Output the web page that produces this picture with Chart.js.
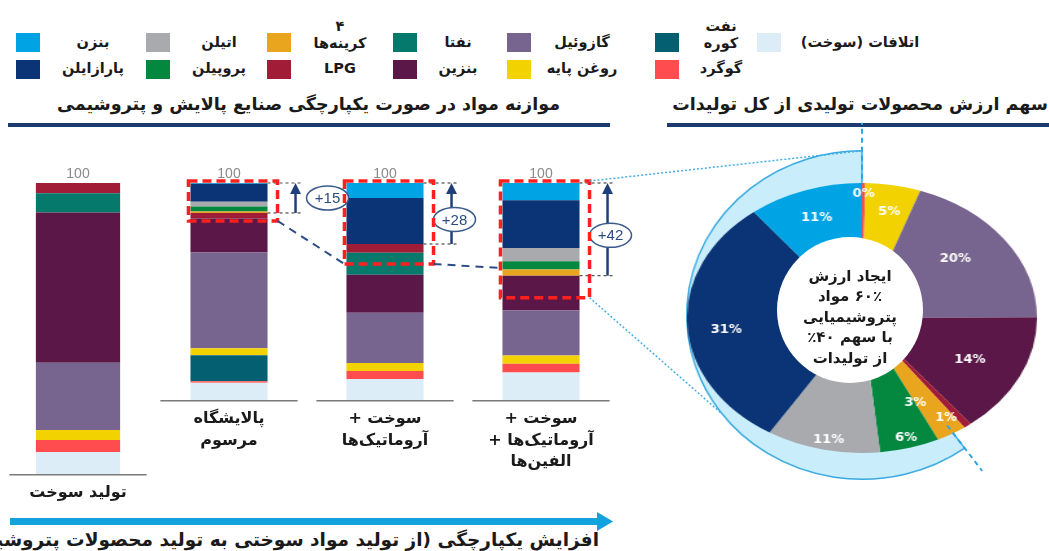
<!DOCTYPE html>
<html lang="fa">
<head>
<meta charset="utf-8">
<script src="https://cdn.jsdelivr.net/npm/chart.js@4.4.1/dist/chart.umd.min.js"></script>
<style>
  html, body { margin: 0; padding: 0; background: #fff; }
  body { width: 1049px; height: 551px; position: relative; overflow: hidden;
         font-family: "DejaVu Sans", sans-serif; color: #1a1a1a; }
  .abs { position: absolute; }
  .sw { position: absolute; width: 24px; height: 19px; }
  .lg { position: absolute; font-weight: bold; font-size: 14.5px; line-height: 17px;
        white-space: nowrap; transform: translateX(-50%); text-align: center; }
  .title { position: absolute; font-weight: bold; font-size: 17.5px; white-space: nowrap; }
  #bandWrap { position: absolute; left: 662px; top: 115px; width: 400px; height: 400px;
              transform: scaleX(1.067); transform-origin: 200px 200px; }
  #ringWrap { position: absolute; left: 727px; top: 183px; width: 270px; height: 270px;
              transform: scaleX(1.296); transform-origin: 135px 135px; }
  #hub { position: absolute; left: 777px; top: 237px; width: 146px; height: 146px;
         border-radius: 50%; background: #fff; display: flex; align-items: center;
         justify-content: center; text-align: center; font-weight: bold; font-size: 15px;
         line-height: 20.5px; padding-top: 14px; box-sizing: border-box; }
  #overlay { position: absolute; left: 0; top: 0; pointer-events: none; }
</style>
</head>
<body>

<div id="legend"></div>

<div class="title" dir="rtl" style="right:489px; top:94px">موازنه مواد در صورت یکپارچگی صنایع پالایش و پتروشیمی</div>
<div class="title" dir="rtl" style="right:1px; top:94px">سهم ارزش محصولات تولیدی از کل تولیدات</div>

<svg class="abs" style="left:0; top:0" width="1049" height="551">
  <rect x="8" y="123" width="602" height="4" fill="#1d3a70"/>
  <rect x="667" y="123" width="382" height="4" fill="#1d3a70"/>
  <rect x="10" y="518" width="590" height="7" fill="#12a3df"/>
  <polygon points="597,512 613,521.5 597,531" fill="#12a3df"/>
</svg>

<div class="title" dir="rtl" style="right:450px; top:529px; font-size:18.5px">افزایش یکپارچگی (از تولید مواد سوختی به تولید محصولات پتروشیمی)</div>

<canvas id="fuelChart" class="abs" dir="rtl" width="156" height="364" style="left:0px; top:150px"></canvas>
<canvas id="mixChart" class="abs" dir="rtl" width="500" height="330" style="left:151px; top:150px"></canvas>

<div id="bandWrap"><canvas id="bandChart" width="400" height="400"></canvas></div>
<div id="ringWrap"><canvas id="ringChart" width="270" height="270"></canvas></div>
<div id="hub" dir="rtl"><div>ایجاد ارزش<br>۶۰٪ مواد<br>پتروشیمیایی<br>با سهم ۴۰٪<br>از تولیدات</div></div>

<canvas id="overlay" width="1049" height="551"></canvas>

<script>
// ======================
// موازنه مواد و سهم ارزش محصولات
// ======================

// ---------- داده‌ها (ستون‌ها: تولید سوخت، پالایشگاه مرسوم، سوخت+آروماتیک، سوخت+آروماتیک+الفین) ----------
const barLabels = [
  ["تولید سوخت"],
  ["پالایشگاه", "مرسوم"],
  ["سوخت +", "آروماتیک‌ها"],
  ["سوخت +", "آروماتیک‌ها +", "الفین‌ها"]
];

const losses     = [7.6, 7.9, 9.7, 12.7];
const sulfur     = [4.1, 0.7, 3.7, 4.0];
const fuelOil    = [0, 12.0, 0, 0];
const baseOil    = [3.4, 3.2, 3.7, 3.8];
const gasoil     = [23.1, 44.2, 23.1, 20.7];
const gasoline   = [51.7, 15.6, 17.5, 16.1];
const naphtha    = [6.6, 0, 10.1, 0];
const lpg        = [3.5, 2.6, 4.1, 0];
const c4         = [0, 0.7, 0, 2.8];
const propylene  = [0, 2.3, 0, 3.8];
const ethylene   = [0, 2.2, 0, 6.1];
const paraxylene = [0, 8.3, 21.2, 22.0];
const benzene    = [0, 0.3, 6.9, 8.0];

// ترتیب از پایین به بالای ستون
const seriesValues = [losses, sulfur, fuelOil, baseOil, gasoil, gasoline, naphtha, lpg, c4, propylene, ethylene, paraxylene, benzene];
const seriesNames = ["اتلافات (سوخت)", "گوگرد", "نفت\nکوره", "روغن پایه", "گازوئیل", "بنزین", "نفتا", "LPG", "۴\nکرینه‌ها", "پروپیلن", "اتیلن", "پارازایلن", "بنزن"];
const seriesColors = ["#ddedf8", "#ff4c4f", "#045f71", "#f2d200", "#77648f", "#5a1747", "#06796d", "#a11c37", "#eaa51e", "#04873f", "#a9aaad", "#0a3475", "#00a4e4"];

const petroSeries = [c4, propylene, ethylene, paraxylene, benzene];
const upliftLabels = ["+15", "+28", "+42"];

// ---------- سهم ارزش (ساعتگرد از بالا) ----------
const shareNames = ["گوگرد", "روغن پایه", "گازوئیل", "بنزین", "LPG", "کرینه‌ها ۴", "پروپیلن", "اتیلن", "پارازایلن", "بنزن"];
const shareValues = [0.3, 5.1, 19.5, 14.4, 0.7, 2.8, 5.5, 10.5, 30.5, 10.6];
const shareSeries = [1, 3, 4, 5, 7, 8, 9, 10, 11, 12];
const shareIsPetro = [false, false, false, false, false, true, true, true, true, true];

// ---------- چیدمان ----------
const legendRow1 = [12, 10, 8, 6, 4, 2, 0];
const legendRow2 = [11, 9, 7, 5, 3, 1];
const legendSwatchX = [16, 146, 267, 393, 507, 655, 757];
const legendTextX = [93, 219, 340, 458, 582, 721, 860];
const legendRowY = [42.5, 69];

const MIX = { left: 151, top: 150 };
const BAND = { left: 662, top: 115, size: 400, sx: 1.067 };
const RING = { sx: 1.296 };
const boxPad = [8, 20, 22];
const labelRadius = [0.92, 0.8, 0.69, 0.69, 0.88, 0.7, 0.92, 0.92, 0.78, 0.79];
const labelShift = [0, 1, -4, 1, 4, 5, 0, -1, -3, 0];

const markState = { boxes: [] };

// ---------- راهنما ----------
function buildLegend() {
  const box = document.getElementById("legend");
  [legendRow1, legendRow2].forEach((row, r) => {
    row.forEach((s, c) => {
      const sw = document.createElement("div");
      sw.className = "sw";
      sw.style.left = legendSwatchX[c] + "px";
      sw.style.top = (legendRowY[r] - 9.5) + "px";
      sw.style.background = seriesColors[s];
      box.appendChild(sw);

      const lines = seriesNames[s].split("\n");
      const tx = document.createElement("div");
      tx.className = "lg";
      tx.dir = "rtl";
      tx.style.left = legendTextX[c] + "px";
      tx.style.top = (legendRowY[r] - 9 - (lines.length - 1) * 16) + "px";
      tx.innerHTML = lines.join("<br>");
      box.appendChild(tx);
    });
  });
}

function line(ctx, x1, y1, x2, y2) {
  ctx.beginPath();
  ctx.moveTo(x1, y1);
  ctx.lineTo(x2, y2);
  ctx.stroke();
}

// ---------- پلاگین: جمع و خط پایه ----------
const totalsLabel = {
  id: "totalsLabel",
  afterDatasetsDraw(chart) {
    const { ctx, scales: { x, y } } = chart;
    const n = chart.data.labels.length;
    const half = (x.width / n) * 0.44;
    ctx.save();
    chart.data.labels.forEach((lab, i) => {
      const total = chart.data.datasets.reduce((s, d) => s + (d.data[i] || 0), 0);
      const cx = x.getPixelForValue(i);
      ctx.strokeStyle = "#7a7a7a";
      ctx.lineWidth = 1.5;
      line(ctx, cx - half, y.bottom + 0.75, cx + half, y.bottom + 0.75);
      ctx.fillStyle = "#8a8a8a";
      ctx.font = '14px "Liberation Sans", Arial, sans-serif';
      ctx.textAlign = "center";
      ctx.fillText(Math.round(total), cx, y.getPixelForValue(total) - 5);
    });
    ctx.restore();
  }
};

// ---------- پلاگین: کادرها و فلش‌های سهم پتروشیمی ----------
const integrationMarks = {
  id: "integrationMarks",
  afterDatasetsDraw(chart) {
    const { ctx, scales: { y } } = chart;
    const meta = chart.getDatasetMeta(0);
    const boxes = [];
    ctx.save();
    meta.data.forEach((bar, i) => {
      const col = i + 1;
      const total = seriesValues.reduce((s, v) => s + v[col], 0);
      const petro = petroSeries.reduce((s, v) => s + v[col], 0);
      const left = bar.x - bar.width / 2;
      const right = bar.x + bar.width / 2;
      const top = y.getPixelForValue(total);
      const base = y.getPixelForValue(total - petro);
      const ax = right + 28;

      ctx.setLineDash([3, 3]);
      ctx.strokeStyle = "#4d4d4d";
      ctx.lineWidth = 1.2;
      line(ctx, right, top, ax + 8, top);
      line(ctx, right, base, ax + 8, base);

      ctx.setLineDash([]);
      ctx.strokeStyle = "#1f3f7a";
      ctx.fillStyle = "#1f3f7a";
      ctx.lineWidth = 2.5;
      line(ctx, ax, base, ax, top + 8);
      ctx.beginPath();
      ctx.moveTo(ax, top);
      ctx.lineTo(ax - 5.5, top + 11);
      ctx.lineTo(ax + 5.5, top + 11);
      ctx.closePath();
      ctx.fill();

      const short = base - top < 50;
      const ex = short ? ax + 32 : ax + 3;
      const ey = short ? top + 15 : (top + base) / 2 + 6;
      ctx.beginPath();
      ctx.ellipse(ex, ey, 21, 12, 0, 0, Math.PI * 2);
      ctx.fillStyle = "#ffffff";
      ctx.fill();
      ctx.strokeStyle = "#3a5a8c";
      ctx.lineWidth = 1.5;
      ctx.stroke();
      ctx.fillStyle = "#2c4c80";
      ctx.font = '15px "Liberation Sans", Arial, sans-serif';
      ctx.textAlign = "center";
      ctx.textBaseline = "middle";
      ctx.direction = "ltr";
      ctx.fillText(upliftLabels[i], ex, ey + 1);

      boxes.push({ left: left - 2, right: right + 10, top: top - 2, bottom: base + boxPad[i] });
    });

    ctx.setLineDash([9, 5]);
    ctx.strokeStyle = "#ff1f1f";
    ctx.lineWidth = 3.5;
    boxes.forEach((b) => ctx.strokeRect(b.left, b.top, b.right - b.left, b.bottom - b.top));

    ctx.setLineDash([8, 6]);
    ctx.strokeStyle = "#2d4c84";
    ctx.lineWidth = 2;
    line(ctx, boxes[0].right, boxes[0].bottom, boxes[1].left, boxes[1].bottom);
    line(ctx, boxes[1].right, boxes[1].bottom, boxes[2].left, boxes[1].bottom + 4);
    ctx.restore();
    markState.boxes = boxes;
  }
};

// ---------- ستون‌ها ----------
function buildBarChart(canvasId, cols, padding, barPct, axisHeight, extraPlugins) {
  const datasets = seriesValues.map((vals, s) => ({
    label: seriesNames[s],
    data: cols.map((c) => vals[c]),
    backgroundColor: seriesColors[s],
    borderWidth: 0,
    barPercentage: barPct,
    categoryPercentage: 1
  }));

  return new Chart(document.getElementById(canvasId), {
    type: "bar",
    data: { labels: cols.map((c) => barLabels[c]), datasets },
    options: {
      responsive: false,
      animation: false,
      layout: { padding },
      plugins: { legend: { display: false }, tooltip: { enabled: false } },
      scales: {
        x: {
          stacked: true,
          grid: { display: false, drawTicks: false },
          border: { display: false },
          ticks: {
            color: "#1a1a1a",
            padding: 8,
            maxRotation: 0,
            autoSkip: false,
            font: { family: "DejaVu Sans", weight: "bold", size: 16, lineHeight: 1.35 }
          },
          afterFit: (s) => { s.height = axisHeight; }
        },
        y: { stacked: true, min: 0, max: 100, display: false }
      }
    },
    plugins: [totalsLabel, ...extraPlugins]
  });
}

// ---------- حلقه ----------
const ringLabels = {
  id: "ringLabels",
  afterDatasetsDraw(chart) {
    const ctx = chart.ctx;
    const meta = chart.getDatasetMeta(0);
    ctx.save();
    ctx.fillStyle = "#ffffff";
    ctx.font = 'bold 13px "DejaVu Sans", sans-serif';
    ctx.textAlign = "center";
    ctx.textBaseline = "middle";
    meta.data.forEach((arc, i) => {
      const a = (arc.startAngle + arc.endAngle) / 2 + labelShift[i] * Math.PI / 180;
      const r = arc.outerRadius * labelRadius[i];
      ctx.save();
      ctx.translate(arc.x + Math.cos(a) * r, arc.y + Math.sin(a) * r);
      ctx.scale(1 / RING.sx, 1);
      ctx.fillText(Math.round(shareValues[i]) + "%", 0, 0);
      ctx.restore();
    });
    ctx.restore();
  }
};

function buildRing() {
  return new Chart(document.getElementById("ringChart"), {
    type: "doughnut",
    data: {
      labels: shareNames,
      datasets: [{
        data: shareValues,
        backgroundColor: shareSeries.map((s) => seriesColors[s]),
        borderWidth: 0
      }]
    },
    options: {
      responsive: false,
      animation: false,
      cutout: "30%",
      layout: { padding: 0 },
      plugins: { legend: { display: false }, tooltip: { enabled: false } }
    },
    plugins: [ringLabels]
  });
}

function buildBand() {
  const petro = shareValues.filter((v, i) => shareIsPetro[i]).reduce((a, b) => a + b, 0);
  const rest = shareValues.filter((v, i) => !shareIsPetro[i]).reduce((a, b) => a + b, 0);
  return new Chart(document.getElementById("bandChart"), {
    type: "doughnut",
    data: {
      labels: ["سوخت", "پتروشیمی"],
      datasets: [{
        data: [rest, petro],
        backgroundColor: ["rgba(0,0,0,0)", "#c9edfb"],
        borderColor: ["rgba(0,0,0,0)", "#38a9e1"],
        borderWidth: 1.5
      }]
    },
    options: {
      responsive: false,
      animation: false,
      cutout: 100,
      layout: { padding: 35 },
      plugins: { legend: { display: false }, tooltip: { enabled: false } }
    }
  });
}

// ---------- خطوط اتصال ----------
function drawOverlay(bandChart) {
  const ctx = document.getElementById("overlay").getContext("2d");
  const arc = bandChart.getDatasetMeta(0).data[1];
  const toPage = (a, r) => ({
    x: BAND.left + BAND.size / 2 + (arc.x + Math.cos(a) * r - BAND.size / 2) * BAND.sx,
    y: BAND.top + arc.y + Math.sin(a) * r
  });

  ctx.strokeStyle = "#2ea6df";
  ctx.lineWidth = 2;
  ctx.setLineDash([5, 4]);
  [arc.startAngle, arc.endAngle].forEach((a) => {
    const p1 = toPage(a, arc.outerRadius * 0.83);
    const p2 = toPage(a, arc.outerRadius + 28);
    line(ctx, p1.x, p1.y, p2.x, p2.y);
  });

  const b = markState.boxes[2];
  if (!b) return;
  const topPt = toPage(arc.endAngle, arc.outerRadius);
  const sidePt = toPage(-Math.PI / 2 + 233 * Math.PI / 180, arc.outerRadius);
  ctx.setLineDash([2, 2]);
  ctx.lineWidth = 1.5;
  ctx.strokeStyle = "#47aee3";
  line(ctx, MIX.left + b.right, MIX.top + b.top, topPt.x, topPt.y);
  line(ctx, MIX.left + b.right, MIX.top + b.bottom, sidePt.x, sidePt.y);
}

// ---------- اجرا ----------
buildLegend();
buildBarChart("fuelChart", [0], { top: 33 }, 0.54, 40, []);
buildBarChart("mixChart", [1, 2, 3], { top: 33, right: 32 }, 0.494, 80, [integrationMarks]);
const bandChart = buildBand();
buildRing();
drawOverlay(bandChart);
</script>
</body>
</html>
